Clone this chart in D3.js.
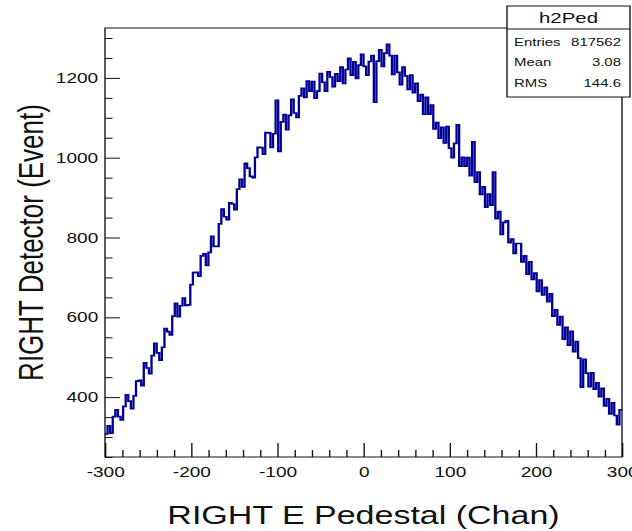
<!DOCTYPE html>
<html>
<head>
<meta charset="utf-8">
<script src="https://cdn.jsdelivr.net/npm/d3@7"></script>
<style>
  html, body { margin: 0; padding: 0; background: #fff; }
  svg { display: block; }
  text { font-family: "Liberation Sans", Arial, Helvetica, sans-serif; fill: #111; }
</style>
</head>
<body>
<svg id="svg"></svg>
<script>
// histogram h2Ped, bins of 3 channels from -300 to 300
var binLow = -300, binWidth = 3;
var counts = [
    308, 328, 310, 351, 368, 351, 343, 377, 406, 390,
    371, 403, 440, 442, 429, 486, 473, 459, 504, 535,
    511, 493, 525, 572, 564, 556, 603, 635, 602, 629,
    648, 630, 631, 682, 712, 713, 703, 754, 759, 730,
    763, 803, 778, 778, 834, 871, 852, 845, 887, 884,
    870, 921, 946, 927, 986, 974, 953, 950, 1001, 1026,
    1025, 1009, 1063, 1062, 1026, 1060, 1144, 1016, 1090, 1108,
    1070, 1106, 1146, 1112, 1101, 1155, 1174, 1151, 1192, 1167,
    1191, 1149, 1167, 1211, 1189, 1167, 1215, 1202, 1178, 1210,
    1192, 1227, 1186, 1221, 1249, 1207, 1240, 1199, 1232, 1259,
    1229, 1207, 1241, 1256, 1139, 1242, 1270, 1229, 1262, 1284,
    1256, 1209, 1256, 1214, 1183, 1227, 1205, 1171, 1207, 1163,
    1186, 1142, 1158, 1109, 1151, 1109, 1132, 1072, 1088, 1049,
    1076, 1037, 1078, 1024, 1000, 1036, 1082, 979, 1001, 979,
    1000, 955, 1040, 939, 964, 908, 927, 876, 909, 881,
    964, 847, 865, 808, 838, 842, 787, 796, 760, 785,
    785, 739, 754, 708, 739, 695, 711, 665, 693, 656,
    675, 639, 659, 603, 619, 581, 602, 545, 575, 530,
    565, 514, 539, 498, 425, 495, 460, 426, 461, 420,
    436, 401, 422, 378, 396, 358, 386, 354, 331, 368
];

var xMajorTicks = [-300, -200, -100, 0, 100, 200, 300];
var xMinorTicks = [-280, -260, -240, -220, -180, -160, -140, -120, -80, -60, -40, -20,
                   20, 40, 60, 80, 120, 140, 160, 180, 220, 240, 260, 280];
var yMajorTicks = [400, 600, 800, 1000, 1200];
var yMinorTicks = [250, 300, 350, 450, 500, 550, 650, 700, 750, 850, 900, 950,
                   1050, 1100, 1150, 1250, 1300];

var statsTitle = "h2Ped";
var statsNames = ["Entries", "Mean", "RMS"];
var statsValues = ["817562", "3.08", "144.6"];

var xTitle = "RIGHT E Pedestal (Chan)";
var yTitle = "RIGHT Detector (Event)";

// the picture is stretched horizontally, so draw in a narrower box and stretch it
var K = 1.36;
var W = 632 / K, H = 531;

var svg = d3.select("#svg")
    .attr("width", 632)
    .attr("height", 531)
    .attr("viewBox", "0 0 " + W + " " + H)
    .attr("preserveAspectRatio", "none");

var frame = {left: 105 / K, right: 622 / K, top: 28, bottom: 457};

var x = d3.scaleLinear().domain([-300, 300]).range([frame.left, frame.right]);
var y = d3.scaleLinear().domain([250, 1325]).range([frame.bottom, frame.top]);

// plain labels, with a hyphen for the minus sign
var plain = function (d) { return String(d); };

svg.append("rect").attr("width", W).attr("height", H).attr("fill", "#fff");

// clip for the histogram
svg.append("clipPath").attr("id", "plotclip")
    .append("rect")
    .attr("x", frame.left).attr("y", frame.top)
    .attr("width", frame.right - frame.left)
    .attr("height", frame.bottom - frame.top);

// histogram step line
var pts = counts.map(function (c, i) { return [binLow + i * binWidth, c]; });
pts.push([binLow + counts.length * binWidth, counts[counts.length - 1]]);

var line = d3.line()
    .x(function (d) { return x(d[0]); })
    .y(function (d) { return y(d[1]); })
    .curve(d3.curveStepAfter);

svg.append("path")
    .datum(pts)
    .attr("clip-path", "url(#plotclip)")
    .attr("fill", "none")
    .attr("stroke", "#000099")
    .attr("stroke-width", 1.7)
    .attr("d", line);

// axes: ticks point inside the frame
function styleAxis(g) {
    g.select(".domain").remove();
    g.selectAll("line").attr("stroke", "#111").attr("stroke-width", 1);
}

svg.append("g")
    .attr("transform", "translate(0," + frame.bottom + ")")
    .call(d3.axisBottom(x).tickValues(xMinorTicks).tickSizeInner(-7).tickSizeOuter(0).tickFormat(""))
    .call(styleAxis);

svg.append("g")
    .attr("transform", "translate(0," + frame.bottom + ")")
    .call(d3.axisBottom(x).tickValues(xMajorTicks).tickSizeInner(-14).tickSizeOuter(0).tickPadding(10).tickFormat(plain))
    .call(styleAxis)
    .selectAll("text")
    .style("font-size", "14px")
    .attr("fill", "#222");

svg.append("g")
    .attr("transform", "translate(" + frame.left + ",0)")
    .call(d3.axisLeft(y).tickValues(yMinorTicks).tickSizeInner(-5.5).tickSizeOuter(0).tickFormat(""))
    .call(styleAxis);

svg.append("g")
    .attr("transform", "translate(" + frame.left + ",0)")
    .call(d3.axisLeft(y).tickValues(yMajorTicks).tickSizeInner(-11).tickSizeOuter(0).tickPadding(5).tickFormat(plain))
    .call(styleAxis)
    .selectAll("text")
    .style("font-size", "14px")
    .attr("fill", "#222");

// frame
svg.append("rect")
    .attr("x", frame.left).attr("y", frame.top)
    .attr("width", frame.right - frame.left)
    .attr("height", frame.bottom - frame.top)
    .attr("fill", "none")
    .attr("stroke", "#111")
    .attr("stroke-width", 1);

// axis titles
svg.append("text")
    .attr("x", (frame.left + frame.right) / 2)
    .attr("y", 524)
    .attr("text-anchor", "middle")
    .style("font-size", "25px")
    .text(xTitle);

svg.append("text")
    .attr("transform", "translate(" + (43 / K) + "," + ((frame.top + frame.bottom) / 2) + ") rotate(-90)")
    .attr("text-anchor", "middle")
    .style("font-size", "26px")
    .text(yTitle);

// stats box
var box = {left: 507 / K, right: 630 / K, top: 6, bottom: 97, sep: 29};
var stats = svg.append("g");
stats.append("rect")
    .attr("x", box.left).attr("y", box.top)
    .attr("width", box.right - box.left)
    .attr("height", box.bottom - box.top)
    .attr("fill", "#fff")
    .attr("stroke", "#111")
    .attr("stroke-width", 1);
stats.append("line")
    .attr("x1", box.left).attr("x2", box.right)
    .attr("y1", box.sep).attr("y2", box.sep)
    .attr("stroke", "#111");
stats.append("text")
    .attr("x", (box.left + box.right) / 2)
    .attr("y", 23)
    .attr("text-anchor", "middle")
    .style("font-size", "15px")
    .text(statsTitle);

var rowY = d3.scalePoint().domain(statsNames).range([46, 87]);
stats.selectAll(".sname")
    .data(statsNames)
    .enter().append("text")
    .attr("class", "sname")
    .attr("x", 514 / K)
    .attr("y", function (d) { return rowY(d); })
    .style("font-size", "11px")
    .text(function (d) { return d; });
stats.selectAll(".sval")
    .data(statsValues)
    .enter().append("text")
    .attr("class", "sval")
    .attr("x", 621 / K)
    .attr("y", function (d, i) { return rowY(statsNames[i]); })
    .attr("text-anchor", "end")
    .style("font-size", "11px")
    .text(function (d) { return d; });
</script>
</body>
</html>
